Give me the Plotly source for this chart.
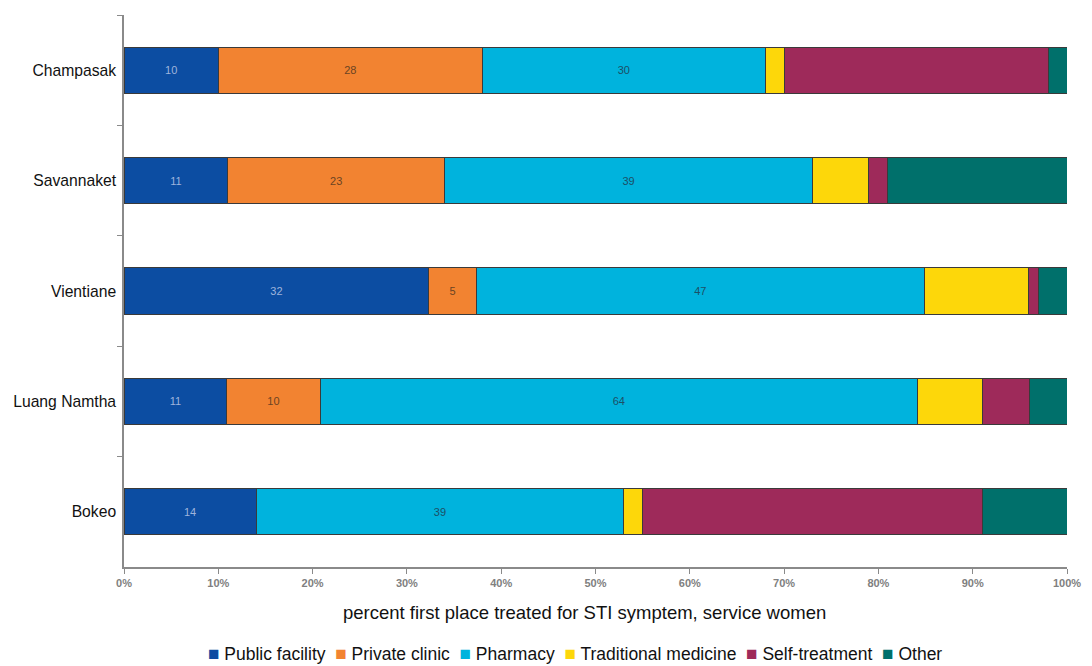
import plotly.graph_objects as go

# Provinces, listed top to bottom
provinces = ["Champasak", "Savannaket", "Vientiane", "Luang Namtha", "Bokeo"]

# Percent of service women by first place treated for an STI symptom
public_facility = [10, 11, 32, 11, 14]
private_clinic = [28, 23, 5, 10, 0]
pharmacy = [30, 39, 47, 64, 39]
traditional_medicine = [2, 6, 11, 7, 2]
self_treatment = [28, 2, 1, 5, 36]
other = [2, 19, 3, 4, 9]

x_ticks = [0, 10, 20, 30, 40, 50, 60, 70, 80, 90, 100]

series = [
    ("Public facility", public_facility, "#0c4da2", "#9fb4dc", True),
    ("Private clinic", private_clinic, "#f28331", "#6b4423", True),
    ("Pharmacy", pharmacy, "#00b3dd", "#1d4f66", True),
    ("Traditional medicine", traditional_medicine, "#fdd70a", "#333333", False),
    ("Self-treatment", self_treatment, "#9e2a5a", "#dddddd", False),
    ("Other", other, "#00706b", "#dddddd", False),
]

FONT = "Arial, Liberation Sans, sans-serif"

fig = go.Figure()
for name, vals, color, tcolor, labelled in series:
    fig.add_trace(go.Bar(
        name=name,
        y=provinces,
        x=vals,
        orientation="h",
        marker=dict(color=color, line=dict(color="#3a3a3a", width=1)),
        text=[str(v) if (labelled and v > 0) else "" for v in vals],
        textposition="inside",
        insidetextanchor="middle",
        textangle=0,
        textfont=dict(family=FONT, size=11, color=tcolor),
        hoverinfo="x+y+name",
    ))

# Legend drawn as one centred line of coloured squares and names
legend_parts = []
for name, _, color, _, _ in series:
    legend_parts.append(
        f"<span style='color:{color};font-size:19px'>■</span> {name}"
    )
legend_text = "  ".join(legend_parts)

# pixel helpers for placing the title and legend under the plot area
PLOT_L, PLOT_R, PLOT_T, PLOT_B = 124, 1067, 15, 567


def px_x(px):
    return (px - PLOT_L) / (PLOT_R - PLOT_L)


def px_y(py):
    return (PLOT_B - py) / (PLOT_B - PLOT_T)


fig.update_layout(
    barmode="stack",
    barnorm="percent",
    bargap=0.58,
    width=1092,
    height=666,
    margin=dict(l=PLOT_L, r=1092 - PLOT_R, t=PLOT_T, b=666 - PLOT_B),
    paper_bgcolor="white",
    plot_bgcolor="white",
    showlegend=False,
    font=dict(family=FONT, color="#111111"),
    xaxis=dict(
        range=[0, 100],
        tickvals=x_ticks,
        ticktext=[f"{v}%" for v in x_ticks],
        showgrid=False,
        zeroline=False,
        showline=True,
        linecolor="#8a8a8a",
        linewidth=1.5,
        ticks="outside",
        ticklen=5,
        tickcolor="#8a8a8a",
        tickfont=dict(family=FONT, size=11, color="#808080", weight="bold"),
    ),
    yaxis=dict(
        categoryorder="array",
        categoryarray=provinces,
        autorange="reversed",
        showgrid=False,
        zeroline=False,
        showline=True,
        linecolor="#8a8a8a",
        linewidth=1.5,
        ticks="outside",
        tickson="boundaries",
        ticklen=5,
        tickcolor="#8a8a8a",
        ticklabelstandoff=3,
        tickfont=dict(family=FONT, size=15.7, color="#111111"),
    ),
    annotations=[
        dict(
            text="percent first place treated for STI symptem, service women",
            xref="paper", yref="paper",
            x=px_x(584.5), y=px_y(612),
            xanchor="center", yanchor="middle",
            showarrow=False,
            font=dict(family=FONT, size=18.5, color="#111111"),
        ),
        dict(
            text=legend_text,
            xref="paper", yref="paper",
            x=px_x(574.5), y=px_y(653),
            xanchor="center", yanchor="middle",
            showarrow=False,
            font=dict(family=FONT, size=17.5, color="#111111"),
        ),
    ],
)

fig.write_html("out.html")
